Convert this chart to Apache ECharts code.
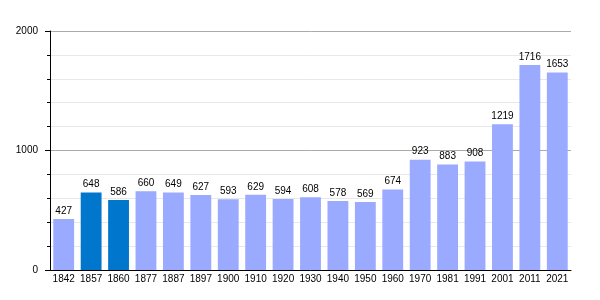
<!DOCTYPE html>
<html>
<head>
<meta charset="utf-8">
<script src="https://cdn.jsdelivr.net/npm/echarts@6/dist/echarts.min.js"></script>
<style>html,body{margin:0;padding:0;background:#fff}#c{width:600px;height:300px}</style>
</head>
<body>
<div id="c"></div>
<script>
var years = ['1842','1857','1860','1877','1887','1897','1900','1910','1920','1930','1940','1950','1960','1970','1981','1991','2001','2011','2021'];
var population = [427,648,586,660,649,627,593,629,594,608,578,569,674,923,883,908,1219,1716,1653];
var highlighted = ['1857','1860'];
var yTicks = [0,1000,2000];

var chart = echarts.init(document.getElementById('c'), null, {renderer:'canvas'});
var font = 'Liberation Sans, Arial, sans-serif';
chart.setOption({
  animation: false,
  grid: {left: 50, right: 29, top: 31, bottom: 30, containLabel: false},
  xAxis: {
    type: 'category', data: years,
    axisLine: {show: true, lineStyle: {color: '#000', width: 1}},
    axisTick: {show: false},
    axisLabel: {color: '#000', fontSize: 10, fontFamily: font, margin: 4, interval: 0}
  },
  yAxis: {
    type: 'value', min: yTicks[0], max: yTicks[yTicks.length-1], interval: 1000,
    axisLine: {show: true, lineStyle: {color: '#000', width: 1}},
    axisTick: {show: true, length: 5, lineStyle: {color: '#000'}},
    minorTick: {show: true, splitNumber: 5, length: 3, lineStyle: {color: '#000'}},
    axisLabel: {color: '#000', fontSize: 10, fontFamily: font, margin: 12, formatter: function(v){ return String(v); }},
    splitLine: {show: true, lineStyle: {color: '#aaaaaa', width: 1}},
    minorSplitLine: {show: true, lineStyle: {color: '#e8e8e8', width: 1}}
  },
  series: [{
    type: 'bar',
    barCategoryGap: '24%',
    data: population.map(function(v, i){
      return {value: v, itemStyle: {color: highlighted.indexOf(years[i]) >= 0 ? '#0077cc' : '#99aaff'}};
    }),
    label: {show: true, position: 'top', color: '#000', fontSize: 10, fontFamily: font, distance: 3}
  }]
});
</script>
</body>
</html>
